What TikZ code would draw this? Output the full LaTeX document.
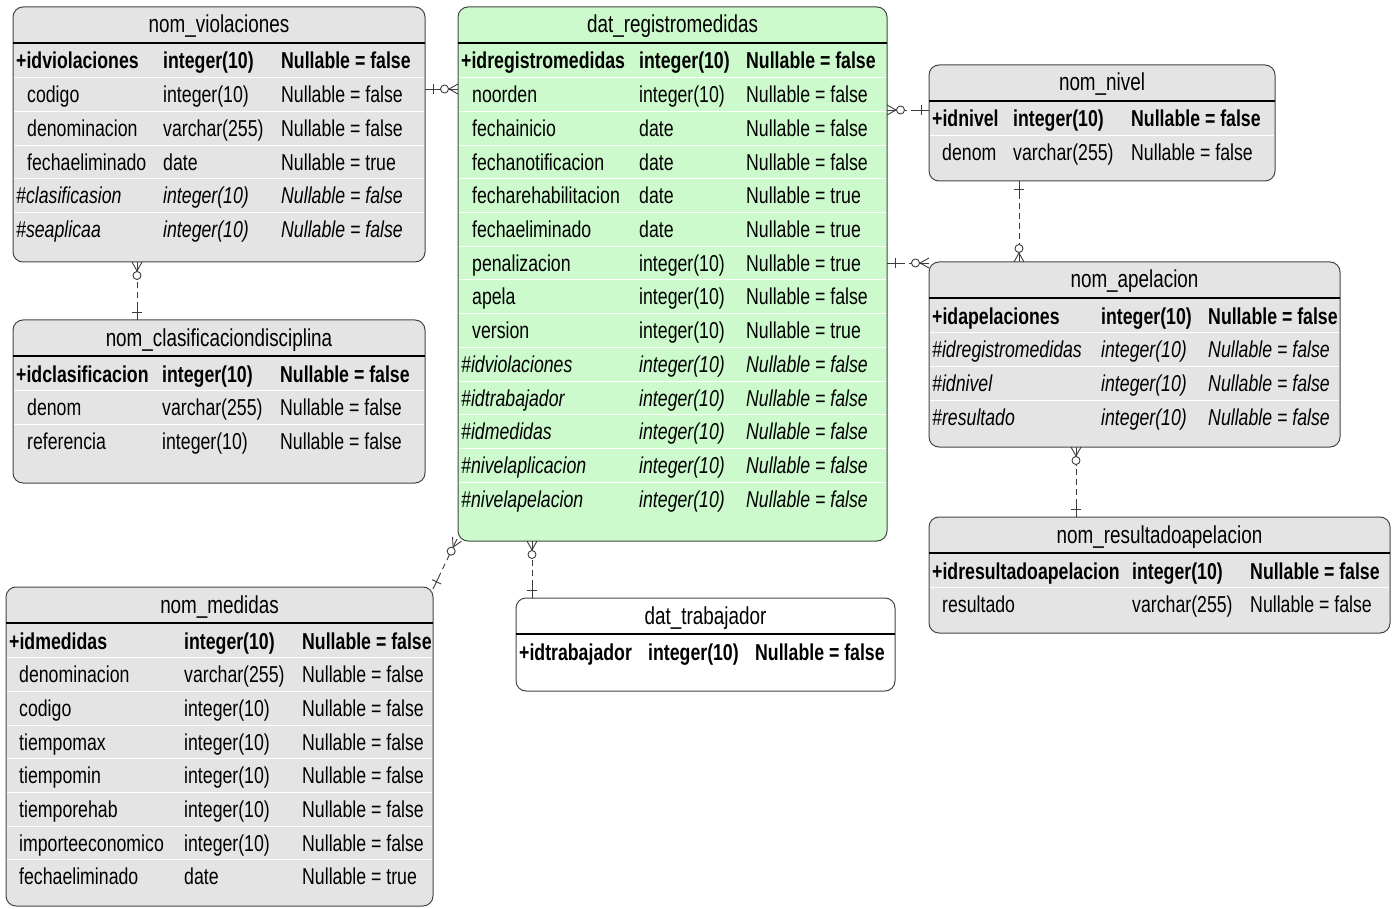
\documentclass[tikz,border=0pt]{standalone}
\usepackage{fontspec}
\setmainfont{Liberation Sans}[FakeStretch=0.77]
\usetikzlibrary{calc}

\definecolor{boxgray}{RGB}{228,228,228}
\definecolor{boxgreen}{RGB}{204,250,204}
\definecolor{edge}{RGB}{70,70,70}
\definecolor{relc}{RGB}{60,60,60}

\tikzset{
  x=1pt, y=-1pt,
  tbl/.style={draw=edge, line width=1pt, rounded corners=10pt, inner sep=0pt, outer sep=0pt, anchor=north west},
  grayfill/.style={fill=boxgray},
  greenfill/.style={fill=boxgreen},
  whitefill/.style={fill=white},
  hdr/.style={draw=black, line width=1.2pt},
  sep/.style={draw=white, line width=1pt},
  title/.style={anchor=base, inner sep=0pt, font=\fontsize{24.5}{28}\selectfont},
  cell/.style={anchor=base west, inner sep=0pt, font=\fontsize{23}{26}\selectfont},
  pkf/.style={font=\fontsize{23}{26}\selectfont\bfseries},
  fkf/.style={font=\fontsize{23}{26}\selectfont\itshape},
  fdf/.style={},
  relsolid/.style={draw=relc, line width=0.9pt},
  reldash/.style={draw=relc, line width=0.9pt, dash pattern=on 6pt off 4pt},
}

% table frame: name, fill style, left, top, right, bottom, title
\newcommand\erbox[7]{%
  \node[tbl,#2,minimum width={#5-#3},minimum height={#6-#4}] (#1) at (#3,#4) {};
  \draw[hdr] (#1.west |- 0,#4+36) -- (#1.east |- 0,#4+36);
  \node[title] (#1-title) at ({(#3+#5)/2},#4+26) {#7};
}
% white lines between field rows: left, right, top, number of separators
\newcommand\rowlines[4]{%
  \foreach \k in {1,...,#4}
    \draw[sep] (#1+1,{#3+37+33.7*\k}) -- (#2-1,{#3+37+33.7*\k});
}
% column layout of the current table: top, key x, field x, type x, nullable x
\newcommand\settable[5]{\def\Ttop{#1}\def\Xa{#2}\def\Xb{#3}\def\Xc{#4}\def\Xd{#5}}
\newcommand\frow[7]{%
  \node[cell,#1] (#3-a) at (#2,{\Ttop+62+33.7*#4}) {#5};
  \node[cell,#1] (#3-b) at (\Xc,{\Ttop+62+33.7*#4}) {#6};
  \node[cell,#1] (#3-c) at (\Xd,{\Ttop+62+33.7*#4}) {#7};
}
\newcommand\pk[5]{\frow{pkf}{\Xa}{#1}{#2}{#3}{#4}{#5}}
\newcommand\fk[5]{\frow{fkf}{\Xa}{#1}{#2}{#3}{#4}{#5}}
\newcommand\fd[5]{\frow{fdf}{\Xb}{#1}{#2}{#3}{#4}{#5}}

% relationship: #1 = end at the "zero or many" side, #2 = end at the "one" side
\newcommand\relation[2]{%
  \coordinate (#1-v) at ($(#1)!9pt!(#2)$);
  \coordinate (#2-b) at ($(#2)!8pt!(#1)$);
  \draw[relsolid] ($(#1)!5pt!90:(#2)$) -- (#1-v) -- ($(#1)!5pt!-90:(#2)$);
  \draw[relsolid] (#1) -- (#1-v);
  \draw[relsolid] ($(#1)!13.5pt!(#2)$) circle (4pt);
  \draw[relsolid] ($(#2-b)!5pt!90:(#2)$) -- ($(#2-b)!5pt!-90:(#2)$);
  \draw[relsolid] (#2) -- ($(#2)!12pt!(#1)$);
  \draw[reldash] ($(#2)!12pt!(#1)$) -- ($(#1)!17.5pt!(#2)$);
}

\begin{document}
\begin{tikzpicture}
\fill[white] (0,0) rectangle (1395,909);
\useasboundingbox (0,0) rectangle (1395,909);

% ---------- nom_violaciones
\erbox{viol}{grayfill}{13}{7}{425}{262}{nom\_violaciones}
\rowlines{13}{425}{7}{5}
\settable{7}{16}{27}{163}{281}
\pk{v0}{0}{+idviolaciones}{integer(10)}{Nullable = false}
\fd{v1}{1}{codigo}{integer(10)}{Nullable = false}
\fd{v2}{2}{denominacion}{varchar(255)}{Nullable = false}
\fd{v3}{3}{fechaeliminado}{date}{Nullable = true}
\fk{v4}{4}{\#clasificasion}{integer(10)}{Nullable = false}
\fk{v5}{5}{\#seaplicaa}{integer(10)}{Nullable = false}

% ---------- nom_clasificaciondisciplina
\erbox{clas}{grayfill}{13}{320}{425}{483}{nom\_clasificaciondisciplina}
\rowlines{13}{425}{320}{2}
\settable{320}{16}{27}{162}{280}
\pk{c0}{0}{+idclasificacion}{integer(10)}{Nullable = false}
\fd{c1}{1}{denom}{varchar(255)}{Nullable = false}
\fd{c2}{2}{referencia}{integer(10)}{Nullable = false}

% ---------- dat_registromedidas
\erbox{reg}{greenfill}{458}{7}{887}{541}{dat\_registromedidas}
\rowlines{458}{887}{7}{13}
\settable{7}{461}{472}{639}{746}
\pk{r0}{0}{+idregistromedidas}{integer(10)}{Nullable = false}
\fd{r1}{1}{noorden}{integer(10)}{Nullable = false}
\fd{r2}{2}{fechainicio}{date}{Nullable = false}
\fd{r3}{3}{fechanotificacion}{date}{Nullable = false}
\fd{r4}{4}{fecharehabilitacion}{date}{Nullable = true}
\fd{r5}{5}{fechaeliminado}{date}{Nullable = true}
\fd{r6}{6}{penalizacion}{integer(10)}{Nullable = true}
\fd{r7}{7}{apela}{integer(10)}{Nullable = false}
\fd{r8}{8}{version}{integer(10)}{Nullable = true}
\fk{r9}{9}{\#idviolaciones}{integer(10)}{Nullable = false}
\fk{r10}{10}{\#idtrabajador}{integer(10)}{Nullable = false}
\fk{r11}{11}{\#idmedidas}{integer(10)}{Nullable = false}
\fk{r12}{12}{\#nivelaplicacion}{integer(10)}{Nullable = false}
\fk{r13}{13}{\#nivelapelacion}{integer(10)}{Nullable = false}

% ---------- nom_nivel
\erbox{nivel}{grayfill}{929}{65}{1275}{181}{nom\_nivel}
\rowlines{929}{1275}{65}{1}
\settable{65}{932}{942}{1013}{1131}
\pk{n0}{0}{+idnivel}{integer(10)}{Nullable = false}
\fd{n1}{1}{denom}{varchar(255)}{Nullable = false}

% ---------- nom_apelacion
\erbox{apel}{grayfill}{929}{262}{1340}{447}{nom\_apelacion}
\rowlines{929}{1340}{262}{3}
\settable{262}{932}{942}{1101}{1208}
\pk{a0}{0}{+idapelaciones}{integer(10)}{Nullable = false}
\fk{a1}{1}{\#idregistromedidas}{integer(10)}{Nullable = false}
\fk{a2}{2}{\#idnivel}{integer(10)}{Nullable = false}
\fk{a3}{3}{\#resultado}{integer(10)}{Nullable = false}

% ---------- nom_resultadoapelacion
\erbox{res}{grayfill}{929}{517}{1390}{633}{nom\_resultadoapelacion}
\rowlines{929}{1390}{517}{1}
\settable{517}{932}{942}{1132}{1250}
\pk{s0}{0}{+idresultadoapelacion}{integer(10)}{Nullable = false}
\fd{s1}{1}{resultado}{varchar(255)}{Nullable = false}

% ---------- nom_medidas
\erbox{med}{grayfill}{6}{587}{433}{906}{nom\_medidas}
\rowlines{6}{433}{587}{7}
\settable{587}{9}{19}{184}{302}
\pk{m0}{0}{+idmedidas}{integer(10)}{Nullable = false}
\fd{m1}{1}{denominacion}{varchar(255)}{Nullable = false}
\fd{m2}{2}{codigo}{integer(10)}{Nullable = false}
\fd{m3}{3}{tiempomax}{integer(10)}{Nullable = false}
\fd{m4}{4}{tiempomin}{integer(10)}{Nullable = false}
\fd{m5}{5}{tiemporehab}{integer(10)}{Nullable = false}
\fd{m6}{6}{importeeconomico}{integer(10)}{Nullable = false}
\fd{m7}{7}{fechaeliminado}{date}{Nullable = true}

% ---------- dat_trabajador
\erbox{trab}{whitefill}{516}{598}{895}{691}{dat\_trabajador}
\settable{598}{519}{529}{648}{755}
\pk{t0}{0}{+idtrabajador}{integer(10)}{Nullable = false}

% ---------- relationships
\coordinate (e1m) at (reg.west |- 0,89);
\coordinate (e1o) at (viol.east |- 0,89);
\relation{e1m}{e1o}

\coordinate (e2m) at (reg.east |- 0,110);
\coordinate (e2o) at (nivel.west |- 0,110);
\relation{e2m}{e2o}

\coordinate (e3m) at (apel.west |- 0,263);
\coordinate (e3o) at (reg.east |- 0,263);
\relation{e3m}{e3o}

\coordinate (e4m) at (apel.north -| 1019,0);
\coordinate (e4o) at (nivel.south -| 1019,0);
\relation{e4m}{e4o}

\coordinate (e5m) at (viol.south -| 137,0);
\coordinate (e5o) at (clas.north -| 137,0);
\relation{e5m}{e5o}

\coordinate (e6m) at ($(reg.south west)+(-1,-2)$);
\coordinate (e6o) at ($(med.north east)+(0,2)$);
\relation{e6m}{e6o}

\coordinate (e7m) at (reg.south -| 532,0);
\coordinate (e7o) at (trab.north -| 532,0);
\relation{e7m}{e7o}

\coordinate (e8m) at (apel.south -| 1076,0);
\coordinate (e8o) at (res.north -| 1076,0);
\relation{e8m}{e8o}
\end{tikzpicture}
\end{document}
